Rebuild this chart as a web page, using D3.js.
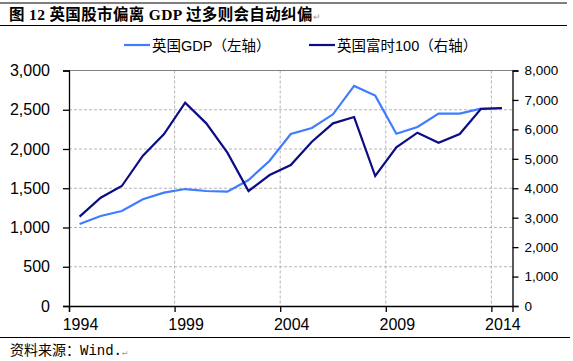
<!DOCTYPE html>
<html>
<head>
<meta charset="utf-8">
<script src="https://cdn.jsdelivr.net/npm/d3@7"></script>
<style>
  body { margin: 0; background: #fff; }
  svg { display: block; }
  .tick text { fill: #000; }
</style>
</head>
<body>
<div class="js-chart"></div>
<script>
// data
let years = [1994, 1995, 1996, 1997, 1998, 1999, 2000, 2001, 2002, 2003, 2004,
  2005, 2006, 2007, 2008, 2009, 2010, 2011, 2012, 2013, 2014];
let gdp = [1045, 1147, 1210, 1359, 1444, 1490, 1465, 1456, 1605, 1851, 2191,
  2268, 2442, 2803, 2680, 2195, 2280, 2450, 2450, 2514, 2518];
let ftse = [3034, 3680, 4076, 5107, 5843, 6907, 6205, 5209, 3907, 4450, 4790,
  5582, 6205, 6420, 4416, 5390, 5888, 5548, 5843, 6692, 6726];
let xTicks = [1994, 1999, 2004, 2009, 2014];
let leftTicks = [0, 500, 1000, 1500, 2000, 2500, 3000];
let rightTicks = [0, 1000, 2000, 3000, 4000, 5000, 6000, 7000, 8000];
let seriesNames = ['英国GDP（左轴）', '英国富时100（右轴）'];
let colors = ['#3f7cff', '#0c0c85'];

function drawChart() {
  var width = 573;
  var height = 361;
  var left = 69, right = 512.5, top = 70.5, bottom = 306;

  var svg = d3.select('.js-chart').append('svg')
    .attr('width', width)
    .attr('height', height);

  var x = d3.scaleLinear().domain([1994, 2015]).range([left, right]);
  var yL = d3.scaleLinear().domain([0, 3000]).range([bottom, top]);
  var yR = d3.scaleLinear().domain([0, 8000]).range([bottom, top]);

  // title and rules
  svg.append('line').attr('x1', 0).attr('x2', 567).attr('y1', 3).attr('y2', 3)
    .attr('stroke', '#000').attr('stroke-width', 1.2);
  svg.append('line').attr('x1', 0).attr('x2', 567).attr('y1', 25.5).attr('y2', 25.5)
    .attr('stroke', '#000').attr('stroke-width', 1.2);
  var title = svg.append('text')
    .attr('x', 9).attr('y', 20)
    .style('font-family', '"Liberation Serif", "Noto Sans CJK SC", serif')
    .style('font-weight', 'bold')
    .style('font-size', '15.5px')
    .style('letter-spacing', '0.35px')
    .text('图 12 英国股市偏离 GDP 过多则会自动纠偏');
  title.append('tspan')
    .attr('fill', '#999').style('font-weight', 'normal').style('font-size', '9px')
    .text('↵');

  // grid
  var grid = svg.append('g');
  grid.selectAll('.hgrid')
    .data(leftTicks.filter((d) => d > 0 && d < 3000))
    .enter()
    .append('line')
    .attr('x1', left).attr('x2', right)
    .attr('y1', (d) => yL(d)).attr('y2', (d) => yL(d))
    .attr('stroke', '#b4b4b4').attr('stroke-dasharray', '3,2');
  grid.selectAll('.vgrid')
    .data(xTicks.slice(1))
    .enter()
    .append('line')
    .attr('x1', (d) => x(d)).attr('x2', (d) => x(d))
    .attr('y1', top).attr('y2', bottom)
    .attr('stroke', '#b4b4b4').attr('stroke-dasharray', '3,2');
  grid.append('line')
    .attr('x1', left).attr('x2', right)
    .attr('y1', yL(3000)).attr('y2', yL(3000))
    .attr('stroke', '#808080');

  // axes
  var leftAxis = svg.append('g')
    .attr('transform', `translate(${left},0)`)
    .call(d3.axisLeft(yL).tickValues(leftTicks).tickFormat(d3.format(',')).tickSize(6).tickPadding(13));
  leftAxis.selectAll('text')
    .style('font-family', '"Liberation Sans", Arial, sans-serif')
    .style('font-size', '16px');

  var rightAxis = svg.append('g')
    .attr('transform', `translate(${right},0)`)
    .call(d3.axisRight(yR).tickValues(rightTicks).tickFormat(d3.format(',')).tickSize(6).tickPadding(6));
  rightAxis.selectAll('text')
    .style('font-family', '"Liberation Sans", Arial, sans-serif')
    .style('font-size', '13.5px');

  var bottomAxis = svg.append('g')
    .attr('transform', `translate(0,${bottom})`)
    .call(d3.axisBottom(x).tickValues(xTicks).tickFormat(d3.format('d')).tickSize(6).tickPadding(7));
  bottomAxis.selectAll('text')
    .attr('x', 11)
    .style('font-family', '"Liberation Sans", Arial, sans-serif')
    .style('font-size', '16px');

  [leftAxis, rightAxis, bottomAxis].forEach((a) => {
    a.select('.domain').attr('stroke', '#000').attr('stroke-width', 1.3);
    a.selectAll('.tick line').attr('stroke', '#000').attr('stroke-width', 1.3);
  });

  // lines (points at mid-year)
  var lineL = d3.line().x((d, i) => x(years[i] + 0.5)).y((d) => yL(d));
  var lineR = d3.line().x((d, i) => x(years[i] + 0.5)).y((d) => yR(d));
  svg.append('path').datum(gdp)
    .attr('d', lineL).attr('fill', 'none')
    .attr('stroke', colors[0]).attr('stroke-width', 2.2);
  svg.append('path').datum(ftse)
    .attr('d', lineR).attr('fill', 'none')
    .attr('stroke', colors[1]).attr('stroke-width', 2.2);

  // legend
  var legend = svg.append('g').selectAll('.legend')
    .data(seriesNames)
    .enter()
    .append('g')
    .attr('transform', (d, i) => `translate(${i === 0 ? 124 : 309},0)`);
  legend.append('line')
    .attr('x1', 0).attr('x2', 26).attr('y1', 45).attr('y2', 45)
    .attr('stroke', (d, i) => colors[i]).attr('stroke-width', 2.2);
  legend.append('text')
    .attr('x', 28).attr('y', 51)
    .style('font-family', '"Liberation Sans", "Noto Sans CJK SC", sans-serif')
    .style('font-size', '14.5px')
    .text((d) => d);

  // source
  svg.append('line').attr('x1', 0).attr('x2', 570).attr('y1', 337.5).attr('y2', 337.5)
    .attr('stroke', '#000').attr('stroke-width', 1.2);
  var src = svg.append('text')
    .attr('x', 10).attr('y', 355)
    .style('font-family', '"Liberation Mono", "Noto Sans CJK SC", monospace')
    .style('font-size', '14px')
    .text('资料来源：Wind.');
  src.append('tspan')
    .attr('fill', '#999').style('font-size', '9px')
    .text('↵');
}

drawChart();
</script>
</body>
</html>
